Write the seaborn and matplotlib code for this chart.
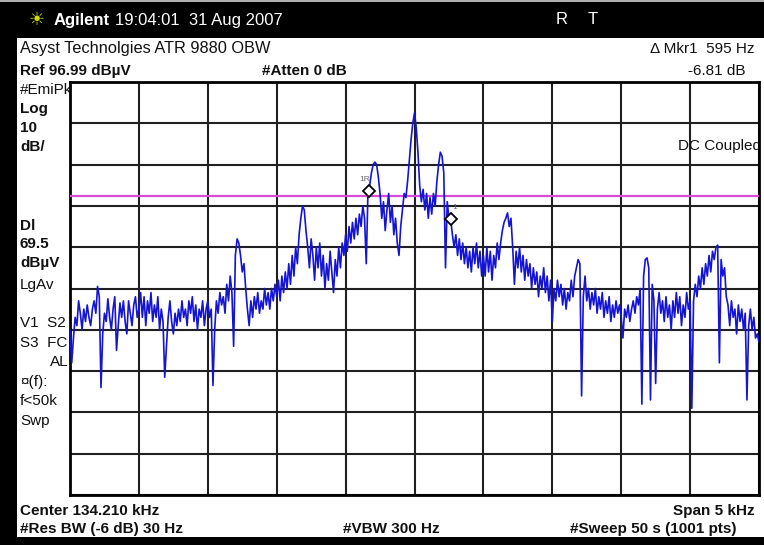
import matplotlib
matplotlib.use("Agg")
import numpy as np
import pandas as pd
import matplotlib.pyplot as plt
import seaborn as sns
from matplotlib.patches import Rectangle

# Instrument settings
center_khz = 134.210
span_hz = 5000
ref_level = 96.99
db_per_div = 10
display_line = 69.5

# Swept trace, dBuV, 401 points evenly spaced across the span (12.5 Hz apart)
trace_db = [
    # -2500 .. -2000 Hz
    37, 29, 35, 40, 38, 44, 41, 37, 42, 39, 43, 40, 38, 42, 44, 41, 47.5, 45, 23, 36,
    41, 39, 44.5, 40, 37, 42, 45, 32, 38, 43.5, 40, 44, 39, 36, 44, 41, 38, 43, 45, 40,
    # -2000 .. -1500 Hz
    42, 46, 40, 45, 38, 44, 41, 46, 39, 43, 40, 45, 37, 42, 39, 25.5, 33, 40, 44, 39,
    36, 41, 38, 42, 39, 44, 40, 42, 38, 44, 41, 45, 39, 43, 37, 42, 40, 44, 38, 42,
    # -1500 .. -1000 Hz
    44, 40, 42, 23.5, 37, 44, 41, 46, 43, 45, 41, 48, 44, 50, 46, 33, 55, 59, 58, 55,
    51, 53, 47, 42, 38, 44, 40, 45, 42, 46, 41, 44, 42, 47, 43, 46, 42, 47, 44, 48,
    # -1000 .. -500 Hz
    45, 49, 44, 50, 46, 51, 47, 53, 48, 55, 50, 57, 53, 60, 64, 67, 66, 61, 57, 52,
    59, 55, 49, 57, 52, 58, 50, 55, 47, 53, 49, 56, 51, 46, 54, 50, 57, 52, 58, 55,
    # -500 .. 0 Hz
    60, 56, 62, 58, 63, 59, 64, 60, 65, 62, 67, 64, 53, 70.6, 72, 75, 77, 77.6, 77, 74,
    70, 64, 68, 61, 66, 70, 63, 67, 60, 64, 58, 55, 62, 66, 70, 69, 73, 78, 83, 87,
    # 0 .. 500 Hz
    89.5, 86, 80, 72, 68, 71, 66, 70, 64, 69, 65, 70, 67, 73, 77, 80, 79, 75, 52, 68,
    64, 63.8, 60, 57, 60, 55, 59, 54, 58, 53, 57, 52, 56, 51, 57, 53, 58, 52, 56, 50,
    # 500 .. 1000 Hz
    55, 50, 57, 51, 56, 49, 55, 52, 58, 54, 58, 61, 63, 64, 65.3, 62, 64, 57, 48, 56,
    52, 57, 51, 55, 49, 54, 50, 53, 47, 52, 48, 51, 45, 50, 47, 52, 46, 50, 44, 49,
    # 1000 .. 1500 Hz
    39, 47, 44, 49, 45, 48, 43, 47, 42, 46, 44, 49, 45, 50, 52, 54, 53, 21, 45, 50,
    44, 47, 42, 46, 43, 47, 41, 45, 42, 46, 40, 44, 41, 45, 39, 43, 40, 44, 41, 43,
    # 1500 .. 2000 Hz
    40, 35, 42, 40, 43, 39, 42, 44, 41, 45, 43, 47, 19, 50, 54, 54.4, 52, 20, 48, 44,
    24, 42, 46, 41, 44, 39, 45, 40, 43, 37, 44, 40, 46, 41, 45, 38, 43, 40, 46, 42,
    # 2000 .. 2500 Hz
    44, 18, 44, 48, 45, 50, 47, 52, 48, 53, 50, 55, 51, 56, 54, 57, 57.5, 29, 54, 50,
    52, 45, 43, 38, 44, 40, 42, 36, 43, 39, 42, 37, 41, 20, 38, 42, 37, 40, 35, 36, 34,
]

# Delta marker pair
marker_ref_offset_hz = -330
marker_ref_level = 70.6
marker_delta_hz = 595
marker_delta_db = -6.81

W, H = 764, 545
sns.set_theme(style="white")
plt.rcParams["font.family"] = ["Liberation Sans", "DejaVu Sans"]

fig = plt.figure(figsize=(W / 100, H / 100), dpi=100)
fig.patch.set_facecolor("white")


def fx(x):
    return x / W


def fy(y):
    return 1 - y / H


# Bezel around the screen
for (x0, y0, w, h, c) in [(0, 0, W, 38, "black"), (0, 0, 17, H, "black"),
                          (0, 537, W, 8, "black"), (0, 0, W, 2, "#b0b0b0")]:
    fig.add_artist(Rectangle((fx(x0), fy(y0 + h)), w / W, h / H,
                             transform=fig.transFigure, facecolor=c,
                             edgecolor="none", zorder=-5))

# Graticule
L, T, R, B = 70, 82, 759, 495
ax = fig.add_axes([fx(L), fy(B), (R - L) / W, (B - T) / H])
ax.set_facecolor("white")

df = pd.DataFrame({
    "offset_hz": np.linspace(-span_hz / 2, span_hz / 2, len(trace_db)),
    "level": trace_db,
})
sns.lineplot(data=df, x="offset_hz", y="level", ax=ax, color="#1414d2",
             linewidth=1.2, zorder=4)

ax.axhline(display_line, color="#d84ad8", linewidth=1.6, zorder=3)

mk1_f = marker_ref_offset_hz + marker_delta_hz
mk1_l = marker_ref_level + marker_delta_db
ax.plot([marker_ref_offset_hz, mk1_f], [marker_ref_level, mk1_l], linestyle="none",
        marker="D", markersize=6, markerfacecolor="white", markeredgecolor="black",
        markeredgewidth=1.3, zorder=6)
ax.text(marker_ref_offset_hz - 30, marker_ref_level + 2, "1R", fontsize=6,
        color="#666666", ha="center", va="bottom", zorder=6)
ax.text(mk1_f + 30, mk1_l + 2, "1", fontsize=6, color="#666666",
        ha="center", va="bottom", zorder=6)

ax.set_xlim(-span_hz / 2, span_hz / 2)
ax.set_ylim(ref_level - 10 * db_per_div, ref_level)
ax.set_xticks(np.arange(-span_hz / 2, span_hz / 2 + 1, span_hz / 10))
ax.set_yticks(np.arange(ref_level - 10 * db_per_div, ref_level + 0.1, db_per_div))
ax.tick_params(length=0, labelbottom=False, labelleft=False)
ax.set_xlabel("")
ax.set_ylabel("")
ax.grid(True, color="#202020", linewidth=1.5, zorder=1)
ax.set_axisbelow(True)
for s in ax.spines.values():
    s.set_color("black")
    s.set_linewidth(2)

# Coupling note, its last letter cut off by the graticule edge
ax.text(1.003, 0.845, "DC Coupled", transform=ax.transAxes, fontsize=11,
        ha="right", va="center", color="#111111", clip_on=True, zorder=5)

# Header bar
HY = 20
fig.text(fx(37), fy(HY), "\u2600", color="#cfe000", fontsize=13,
         ha="center", va="center", family=["DejaVu Sans"])
fig.text(fx(54), fy(HY), "Agilent", color="white", fontsize=12,
         fontweight="bold", ha="left", va="center")
fig.text(fx(115), fy(HY), "19:04:01  31 Aug 2007", color="white", fontsize=12,
         ha="left", va="center")
fig.text(fx(562), fy(HY), "R", color="white", fontsize=12, ha="center", va="center")
fig.text(fx(593), fy(HY), "T", color="white", fontsize=12, ha="center", va="center")

# Annotation rows above the graticule
fig.text(fx(20), fy(49), "Asyst Technolgies ATR 9880 OBW", fontsize=11.8,
         ha="left", va="center", color="#111111")
fig.text(fx(755), fy(49), "\u0394 Mkr1  595 Hz", fontsize=11,
         ha="right", va="center", color="#111111")
fig.text(fx(20), fy(71), "Ref 96.99 dB\u00b5V", fontsize=11, fontweight="bold",
         ha="left", va="center", color="#111111")
fig.text(fx(262), fy(71), "#Atten 0 dB", fontsize=11, fontweight="bold",
         ha="left", va="center", color="#111111")
fig.text(fx(745), fy(71), "-6.81 dB", fontsize=11, ha="right", va="center",
         color="#111111")

# Left status column (tucked behind the graticule)
left_rows = [
    (90, "#EmiPk", "normal", 20), (109, "Log", "bold", 20), (128, "10", "bold", 20),
    (147, "dB/", "bold", 20), (226, "Dl", "bold", 20), (244, "69.5", "bold", 20),
    (263, "dB\u00b5V", "bold", 20), (285, "LgAv", "normal", 20),
    (323, "V1  S2", "normal", 20), (343, "S3  FC", "normal", 20),
    (362, "AL", "normal", 50), (382, "\u00a4(f):", "normal", 20),
    (401, "f<50k", "normal", 20), (421, "Swp", "normal", 20),
]
for y, s, w, x in left_rows:
    fig.text(fx(x), fy(y), s, fontsize=11, fontweight=w, ha="left", va="center",
             color="#111111", zorder=-1)

# Bottom settings rows
fig.text(fx(20), fy(511), "Center 134.210 kHz", fontsize=11, fontweight="bold",
         ha="left", va="center", color="#111111")
fig.text(fx(755), fy(511), "Span 5 kHz", fontsize=11, fontweight="bold",
         ha="right", va="center", color="#111111")
fig.text(fx(20), fy(529), "#Res BW (-6 dB) 30 Hz", fontsize=11, fontweight="bold",
         ha="left", va="center", color="#111111")
fig.text(fx(343), fy(529), "#VBW 300 Hz", fontsize=11, fontweight="bold",
         ha="left", va="center", color="#111111")
fig.text(fx(570), fy(529), "#Sweep 50 s (1001 pts)", fontsize=11, fontweight="bold",
         ha="left", va="center", color="#111111")

fig.savefig("out.png", dpi=100, facecolor=fig.get_facecolor())
